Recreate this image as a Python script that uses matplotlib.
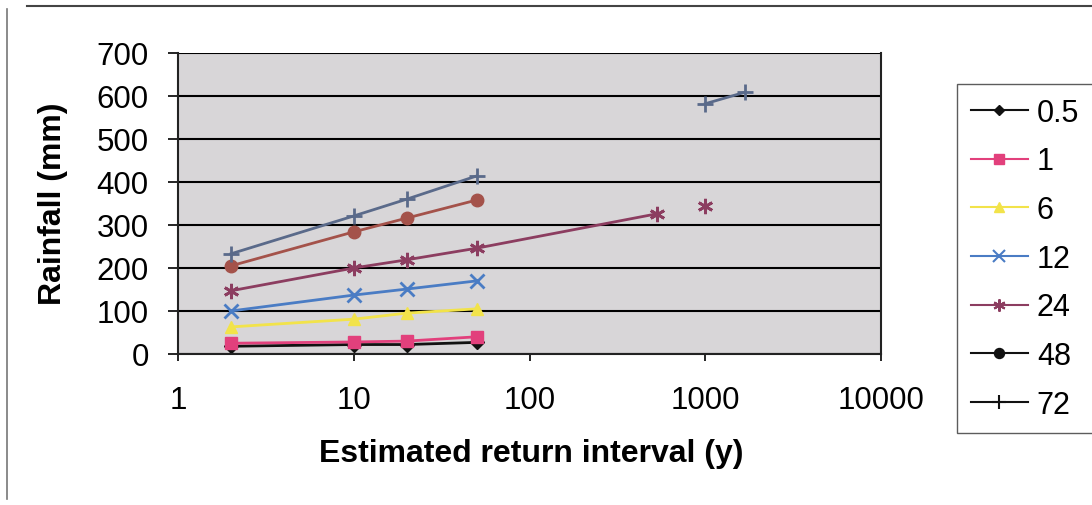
import numpy as np
import matplotlib.pyplot as plt
from matplotlib.lines import Line2D

plt.rcParams['font.family'] = ['Liberation Sans', 'DejaVu Sans']

# Return intervals (years) and rainfall depths (mm) for each storm duration (h)
durations = ['0.5', '1', '6', '12', '24', '48', '72']
x_common = [2, 10, 20, 50]
r_05 = [18, 22, 22, 27]
r_1 = [25, 28, 30, 40]
r_6 = [63, 81, 95, 105]
r_12 = [100, 137, 151, 170]
x_24 = [2, 10, 20, 50, 530, np.nan, 1000]
r_24 = [147, 200, 219, 246, 326, np.nan, 344]
r_48 = [205, 284, 316, 358]
x_72 = [2, 10, 20, 50, np.nan, 1000, 1690]
r_72 = [233, 321, 360, 414, np.nan, 582, 609]

series = [
    (x_common, r_05, '#111111', 'D', 7),
    (x_common, r_1, '#e2407c', 's', 9),
    (x_common, r_6, '#f2e34a', '^', 9),
    (x_common, r_12, '#4a7cc4', 'x', 10),
    (x_24, r_24, '#8c3d60', (6, 2, 0), 11),
    (x_common, r_48, '#a4524a', 'o', 9),
    (x_72, r_72, '#5a6a8a', '+', 12),
]
legend_colors = ['#111111', '#e2407c', '#f2e34a', '#4a7cc4', '#8c3d60', '#111111', '#111111']
thin_markers = ('x', '+', (6, 2, 0))

W, H = 1092, 506
fig = plt.figure(figsize=(W / 100, H / 100), dpi=100)
fig.patch.set_facecolor('white')
ax = fig.add_axes([178 / W, 1 - 355 / H, (881 - 178) / W, (355 - 54) / H])
ax.set_facecolor('#d8d6d8')

for xs, ys, col, mk, ms in series:
    ax.plot(xs, ys, color=col, marker=mk, markersize=ms, lw=2,
            markeredgewidth=2 if mk in thin_markers else 1,
            markeredgecolor=col, markerfacecolor=col)

ax.set_xscale('log')
ax.set_xlim(1, 10000)
ax.set_ylim(0, 700)
ax.set_yticks(range(0, 701, 100))
ax.set_xticks([1, 10, 100, 1000, 10000])
ax.set_xticklabels(['1', '10', '100', '1000', '10000'])
ax.minorticks_off()
ax.yaxis.grid(True, color='black', lw=1.5)
ax.set_axisbelow(True)
for s in ax.spines.values():
    s.set_color('#222222')
    s.set_linewidth(1.5)
ax.spines['top'].set_visible(False)
ax.tick_params(axis='y', length=7, width=1.2, pad=14, labelsize=22.5)
ax.tick_params(axis='x', length=5, width=1.2, pad=17, labelsize=22.5)

fig.text(53 / W, 1 - 204 / H, 'Rainfall (mm)', rotation=90, fontsize=23,
         fontweight='bold', ha='center', va='center')
fig.text(531 / W, 1 - 454 / H, 'Estimated return interval (y)', fontsize=23,
         fontweight='bold', ha='center', va='center')

handles = []
for (xs, ys, col, mk, ms), lc in zip(series, legend_colors):
    handles.append(Line2D([], [], color=lc, marker=mk, markersize=ms * 0.8, lw=1.5,
                          markeredgecolor=lc, markerfacecolor=lc,
                          markeredgewidth=1.5 if mk in thin_markers else 1))
leg = fig.legend(handles, durations, loc='upper left',
                 bbox_to_anchor=(957 / W, 1 - 85 / H), fontsize=22,
                 frameon=True, fancybox=False, edgecolor='#333333',
                 handlelength=1.86, handletextpad=0.3, labelspacing=0.61,
                 borderpad=0.45, borderaxespad=0)
leg.get_frame().set_linewidth(1.0)

# Chart border lines along the top and left edges
fig.add_artist(Line2D([27 / W, 1], [1 - 6.5 / H, 1 - 6.5 / H], transform=fig.transFigure,
                      color='#444444', lw=1.5))
fig.add_artist(Line2D([6.5 / W, 6.5 / W], [1 - 10 / H, 1 - 500 / H], transform=fig.transFigure,
                      color='#777777', lw=1.2))

fig.savefig('out.png', dpi=100)
